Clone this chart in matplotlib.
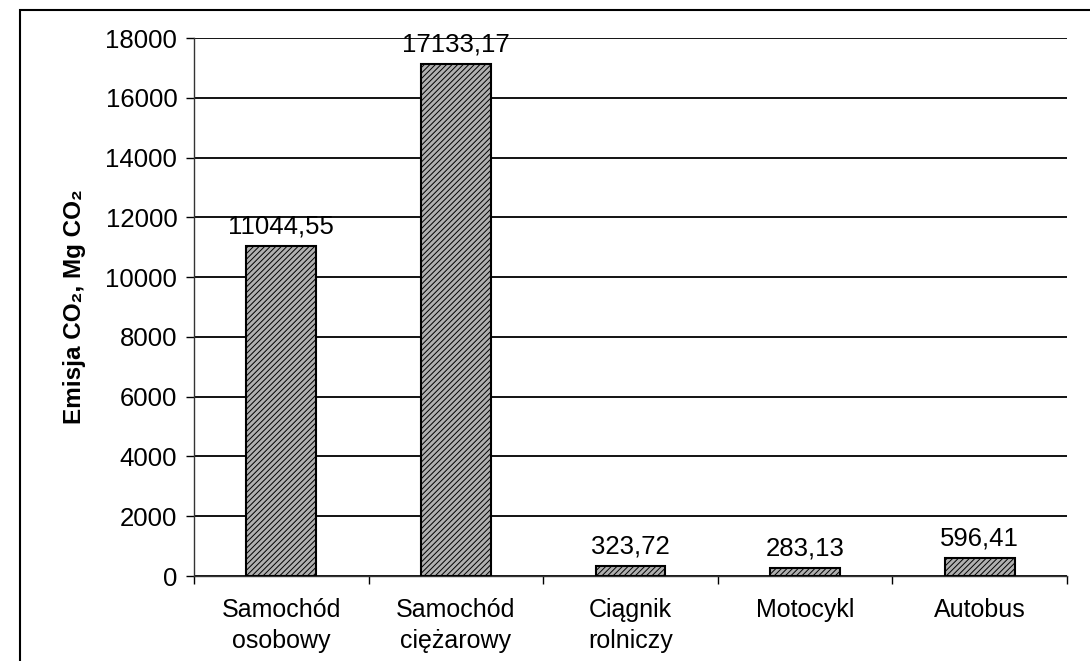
import matplotlib
matplotlib.use("Agg")
import matplotlib.pyplot as plt
from matplotlib.patches import Rectangle
import numpy as np

categories = ["Samochód\nosobowy", "Samochód\nciężarowy", "Ciągnik\nrolniczy", "Motocykl", "Autobus"]
values = [11044.55, 17133.17, 323.72, 283.13, 596.41]
value_labels = ["11044,55", "17133,17", "323,72", "283,13", "596,41"]
yticks = [0, 2000, 4000, 6000, 8000, 10000, 12000, 14000, 16000, 18000]

plt.rcParams['font.family'] = ['Liberation Sans', 'DejaVu Sans']
plt.rcParams['hatch.color'] = '#555555'
plt.rcParams['hatch.linewidth'] = 0.7

fig = plt.figure(figsize=(10.9, 6.61), dpi=100)
ax = fig.add_axes([194/1090, 1-576/661, (1067-194)/1090, (576-38)/661])

x = np.arange(len(categories))
bars = ax.bar(x, values, width=0.4, facecolor='#b0b0b0', edgecolor='black',
              linewidth=1.5, hatch='//////', zorder=3)

for xi, v, lab in zip(x, values, value_labels):
    ax.annotate(lab, (xi, v), xytext=(0, 9), textcoords='offset points',
                ha='center', va='baseline', fontsize=18.5, zorder=4)

ax.set_xlim(-0.5, len(categories) - 0.5)
ax.set_ylim(0, 18000)
ax.set_yticks(yticks)
ax.set_yticklabels([str(t) for t in yticks], fontsize=18.5)
ax.yaxis.grid(True, color='black', linewidth=1.3, zorder=0)
ax.set_axisbelow(True)

ax.set_xticks(x)
ax.set_xticklabels(categories, fontsize=18, linespacing=1.35)
ax.tick_params(axis='x', length=0, pad=16)
ax.set_xticks(np.arange(len(categories) + 1) - 0.5, minor=True)
ax.tick_params(axis='x', which='minor', length=6, width=1, direction='out')
ax.tick_params(axis='y', length=6, width=1, direction='out', pad=6)

for s in ['top', 'right']:
    ax.spines[s].set_visible(False)
ax.spines['left'].set_color('#333333')
ax.spines['left'].set_linewidth(1)
ax.spines['bottom'].set_color('#333333')
ax.spines['bottom'].set_linewidth(1)

ax.set_ylabel("Emisja CO₂, Mg CO₂", fontsize=17.5, fontweight='bold', labelpad=14)

frame = Rectangle((20/1090, -0.2), 1.2, 1 - 10/661 + 0.2, transform=fig.transFigure,
                  fill=False, edgecolor='black', linewidth=1.5, clip_on=False)
fig.patches.append(frame)

fig.savefig("out.png", dpi=100)
